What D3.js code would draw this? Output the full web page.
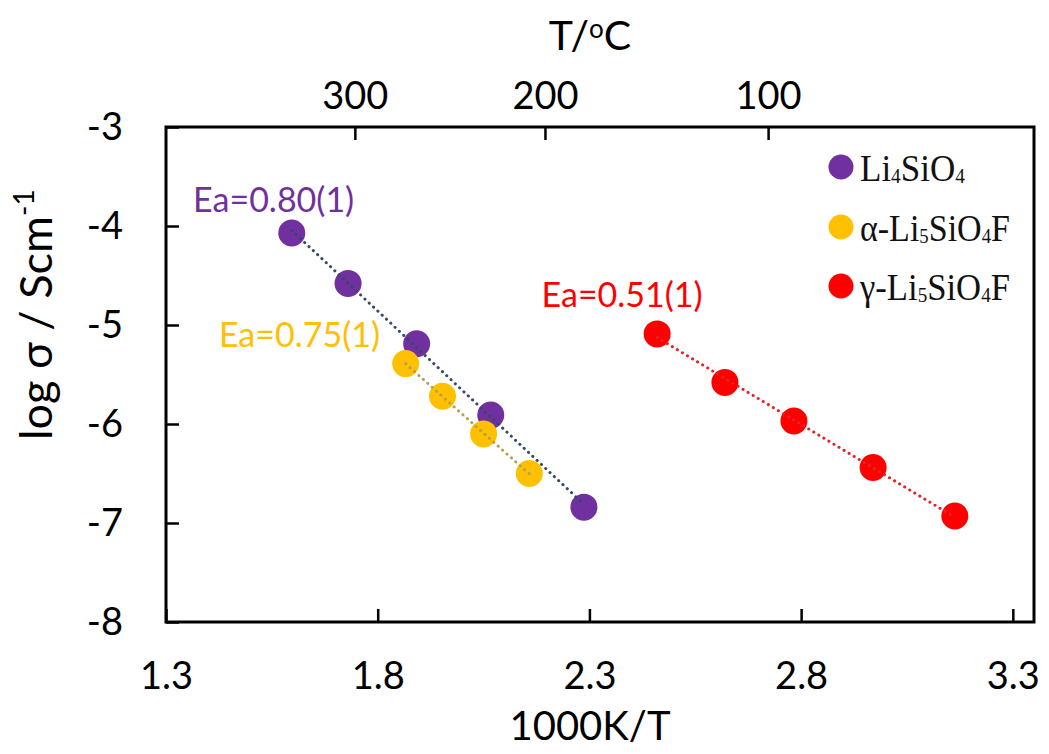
<!DOCTYPE html>
<html>
<head>
<meta charset="utf-8">
<script src="https://cdn.jsdelivr.net/npm/d3@7"></script>
<style>
  body { margin: 0; background: #fff; }
  svg { display: block; }
</style>
</head>
<body>
<svg id="chart" width="1049" height="754"></svg>
<script>
// Arrhenius data: 1000K/T against log10 conductivity
const invT_Li4 = [1.597, 1.730, 1.892, 2.067, 2.287];
const logS_Li4 = [-4.07, -4.58, -5.19, -5.91, -6.84];
const invT_alpha = [1.866, 1.953, 2.050, 2.158];
const logS_alpha = [-5.39, -5.72, -6.10, -6.50];
const invT_gamma = [2.460, 2.620, 2.783, 2.970, 3.163];
const logS_gamma = [-5.09, -5.58, -5.97, -6.44, -6.93];

const seriesNames = ["Li_4SiO_4", "α-Li_5SiO_4F", "γ-Li_5SiO_4F"];
const activationLabels = ["Ea=0.80(1)", "Ea=0.75(1)", "Ea=0.51(1)"];

const xTicks = [1.3, 1.8, 2.3, 2.8, 3.3];
const yTicks = [-3, -4, -5, -6, -7, -8];
// secondary temperature axis (°C), placed along the 1000K/T axis
const topTickPos = [1.746, 2.195, 2.722];
const topTickLabels = ["300", "200", "100"];

const svg = d3.select("#chart");
const sansFont = "Lato, 'Open Sans', sans-serif";
const serifFont = "'Liberation Serif', 'Times New Roman', serif";

const x = d3.scaleLinear().domain([1.3, 3.35]).range([166, 1034]);
const y = d3.scaleLinear().domain([-8, -3]).range([622, 127]);

const series = [
  { xs: invT_Li4, ys: logS_Li4, color: "#7030A0", trend: "#33486A",
    label: activationLabels[0], labelAt: [1.364, -3.86] },
  { xs: invT_alpha, ys: logS_alpha, color: "#FFC000", trend: "#B5A04E",
    label: activationLabels[1], labelAt: [1.425, -5.22] },
  { xs: invT_gamma, ys: logS_gamma, color: "#FF0000", trend: "#E32424",
    label: activationLabels[2], labelAt: [2.187, -4.815] }
];

// axes
function styleAxis(g) {
  g.select(".domain").remove();
  g.selectAll(".tick line").attr("stroke", "#000").attr("stroke-width", 2.5);
  g.selectAll(".tick text").attr("fill", "#000")
    .style("font-family", sansFont).style("font-size", "38px");
}

svg.append("g").attr("transform", `translate(0,${y(-8)})`)
  .call(d3.axisBottom(x).tickValues(xTicks).tickFormat(d3.format(".1f"))
    .tickSize(-13).tickPadding(40))
  .call(styleAxis);

svg.append("g").attr("transform", `translate(${x(1.3)},0)`)
  .call(d3.axisLeft(y).tickValues(yTicks).tickFormat(d => d3.format("d")(d).replace("−", "-"))
    .tickSize(-13).tickPadding(43))
  .call(styleAxis);

svg.append("g").attr("transform", `translate(0,${y(-3)})`)
  .call(d3.axisTop(x).tickValues(topTickPos).tickFormat((d, i) => topTickLabels[i])
    .tickSize(-13).tickPadding(18))
  .call(styleAxis);

// plot frame
svg.append("rect")
  .attr("x", x(1.3)).attr("y", y(-3))
  .attr("width", x.range()[1] - x(1.3)).attr("height", y(-8) - y(-3))
  .attr("fill", "none").attr("stroke", "#000").attr("stroke-width", 3);

// axis titles
svg.append("text").attr("x", 590).attr("y", 740).attr("text-anchor", "middle")
  .style("font-family", sansFont).style("font-size", "40px").text("1000K/T");

const topTitle = svg.append("text").attr("x", 590).attr("y", 50).attr("text-anchor", "middle")
  .style("font-family", sansFont).style("font-size", "41px");
topTitle.append("tspan").text("T/");
topTitle.append("tspan").attr("dy", -12).style("font-size", "26px").text("o");
topTitle.append("tspan").attr("dy", 12).text("C");

const yTitle = svg.append("text")
  .attr("transform", "translate(52,440) rotate(-90)")
  .attr("text-anchor", "start")
  .style("font-family", sansFont).style("font-size", "45px");
yTitle.append("tspan").text("log σ / Scm");
yTitle.append("tspan").attr("dy", -18).style("font-size", "28px").text("-1");

// markers, then dotted least-squares trendlines on top
series.forEach(s => {
  const pts = s.xs.map((v, i) => [v, s.ys[i]]);
  svg.append("g").selectAll("circle").data(pts).join("circle")
    .attr("cx", d => x(d[0])).attr("cy", d => y(d[1])).attr("r", 13.5)
    .attr("fill", s.color);
});

series.forEach(s => {
  const mx = d3.mean(s.xs), my = d3.mean(s.ys);
  const slope = d3.sum(s.xs, (v, i) => (v - mx) * (s.ys[i] - my)) /
                d3.sum(s.xs, v => (v - mx) * (v - mx));
  const icpt = my - slope * mx;
  const ends = d3.extent(s.xs).map(v => [v, icpt + slope * v]);
  svg.append("path")
    .attr("d", d3.line().x(d => x(d[0])).y(d => y(d[1]))(ends))
    .attr("fill", "none").attr("stroke", s.trend).attr("stroke-width", 3)
    .attr("stroke-linecap", "round").attr("stroke-dasharray", "0.1,5.8");
});

// activation energy labels
series.forEach(s => {
  svg.append("text").attr("x", x(s.labelAt[0])).attr("y", y(s.labelAt[1]))
    .attr("fill", s.color)
    .style("font-family", sansFont).style("font-size", "34px")
    .text(s.label);
});

// legend
function chemText(sel, str) {
  const parts = str.split("_");
  sel.append("tspan").text(parts[0]);
  parts.slice(1).forEach(p => {
    sel.append("tspan").attr("dy", 2).style("font-size", "21px").text(p[0]);
    sel.append("tspan").attr("dy", -2).text(p.slice(1));
  });
}

const legend = svg.append("g");
const legendRows = [167, 227, 286];
const legendWidths = [105, 150, 150];
series.forEach((s, i) => {
  legend.append("circle").attr("cx", 841).attr("cy", legendRows[i]).attr("r", 12.5)
    .attr("fill", s.color);
  const t = legend.append("text").attr("x", 860).attr("y", legendRows[i] + 14)
    .attr("fill", "#111")
    .style("font-family", serifFont).style("font-size", "38px");
  chemText(t, seriesNames[i]);
  const len = t.node().getComputedTextLength();
  const k = legendWidths[i] / len;
  t.attr("transform", `translate(860,0) scale(${k},1) translate(-860,0)`);
});
</script>
</body>
</html>
